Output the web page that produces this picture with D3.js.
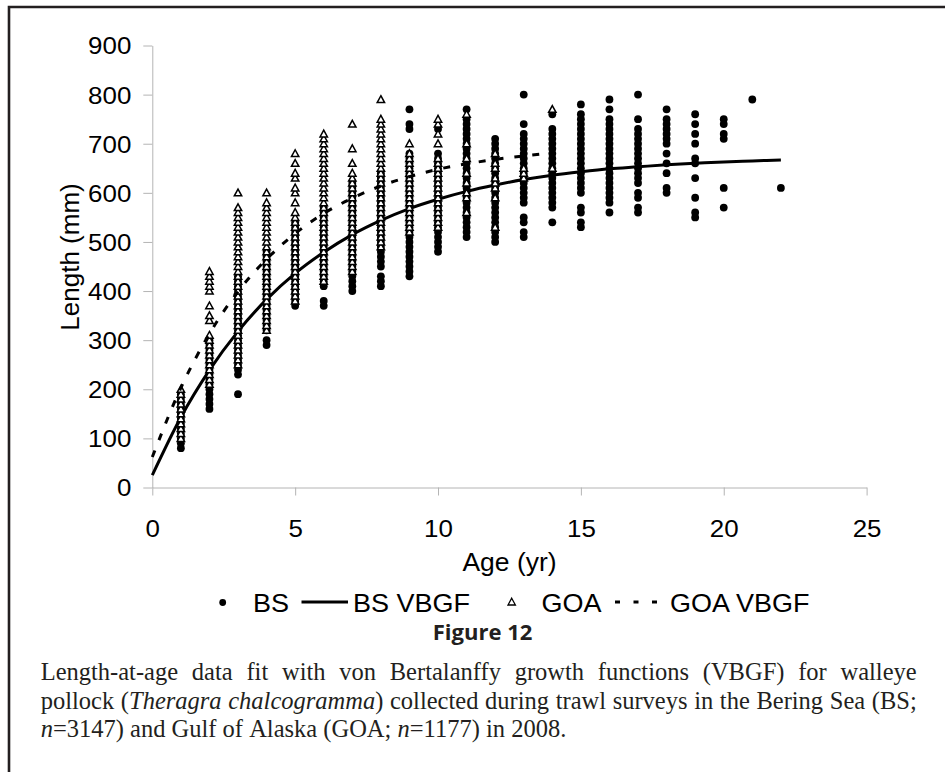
<!DOCTYPE html>
<html><head><meta charset="utf-8">
<script src="https://cdn.jsdelivr.net/npm/d3@7"></script>
<style>html,body{margin:0;padding:0;background:#fff;}svg{display:block;}</style>
</head><body><svg id="chart" width="945" height="772"></svg>
<script>
// ---------- data ----------
const xTicks = [0, 5, 10, 15, 20, 25];
const yTicks = [0, 100, 200, 300, 400, 500, 600, 700, 800, 900];

const bsAges = [1,2,3,4,5,6,7,8,9,10,11,12,13,14,15,16,17,18,19,20,21,22];
const bsLengths = [
  [80,90,100,110,120,130,140,150,160,170,180,190],
  [160,170,180,190,200,210,220,230,240,250,260,270,280,290,300],
  [190,230,240,250,260,270,280,290,300,310,320,330,340,350,360,370,380,390,400,410,420,430],
  [290,300,320,330,340,350,360,370,380,390,400,410,420,430,440,450,460,470,480],
  [370,380,390,400,410,420,430,440,450,460,470,480,490,500,510,520,530,540],
  [370,380,410,420,430,440,450,460,470,480,490,500,510,520,530,540,550,560,570],
  [400,410,420,430,440,450,460,470,480,490,500,510,520,530,540,550,560,570,580,590,600,610,620],
  [410,420,430,450,460,470,480,490,500,510,520,530,540,550,560,570,580,590,600,610,620,630,640],
  [430,440,450,460,470,480,490,500,510,520,530,540,550,560,570,580,590,600,610,620,630,640,650,660,670,680,730,740,770],
  [480,490,500,510,520,530,540,550,560,570,580,590,600,610,620,630,640,650,660,670,680,730],
  [510,520,530,540,550,560,570,580,590,600,610,620,630,640,650,660,670,680,690,700,710,720,730,740,750,770],
  [500,510,520,530,540,550,560,570,580,590,600,610,620,630,640,650,660,670,680,690,700,710],
  [510,520,540,550,580,590,600,610,620,630,640,650,660,670,680,690,700,710,720,740,800],
  [540,570,580,590,600,610,620,630,640,650,660,670,680,690,700,710,720,730,760],
  [530,540,560,570,600,610,620,630,640,650,660,670,680,690,700,710,720,730,740,750,760,780],
  [560,580,590,600,610,620,630,640,650,660,670,680,690,700,710,720,730,740,750,770,790],
  [560,570,590,600,620,630,640,650,660,670,680,690,700,710,720,730,750,800],
  [600,610,640,660,680,700,710,720,730,740,750,770],
  [550,560,590,630,660,670,700,720,740,760],
  [570,610,710,720,740,750],
  [790],
  [610]
];

const goaAges = [1,2,3,4,5,6,7,8,9,10,11,12,13,14];
const goaLengths = [
  [100,110,120,130,140,150,160,170,180,190,200],
  [210,220,230,240,250,260,270,280,290,300,310,340,350,370,400,410,420,430,440],
  [250,260,270,280,290,300,310,320,330,340,350,360,370,380,390,400,410,420,430,440,450,460,470,480,490,500,510,520,530,540,550,560,570,600],
  [320,330,340,350,360,370,380,390,400,410,420,430,440,450,460,470,480,490,500,510,520,530,540,550,560,570,580,600],
  [380,390,400,410,420,430,440,450,460,470,480,490,500,510,520,530,540,550,560,580,600,610,630,640,660,680],
  [420,430,440,450,460,470,480,490,500,510,520,530,540,550,560,570,580,590,600,610,620,630,640,650,660,670,680,690,700,710,720],
  [440,450,460,470,480,490,500,510,520,530,540,550,560,570,580,590,600,610,620,630,640,660,690,740],
  [490,500,510,520,530,540,550,560,570,580,590,600,610,620,630,640,650,660,670,680,690,700,710,720,730,740,750,790],
  [520,530,540,550,560,570,580,590,600,610,620,630,640,650,660,670,680,700],
  [530,540,550,560,570,580,590,600,610,620,630,640,650,660,670,700,720,740,750],
  [560,590,600,620,640,670,700,760],
  [530,590,610,620,630,650,660,680],
  [630,640,650],
  [650,770]
];

const bsFitAges = [0,1,2,3,4,5,6,7,8,9,10,11,12,13,14,15,16,17,18,19,20,21,22];
const bsFitLengths = [25,143,239,318,383,436,479,515,544,568,587,603,616,627,636,643,649,653,657,660,663,665,667];
const goaFitAges = [0,1,2,3,4,5,6,7,8,9,10,11,12,13,14];
const goaFitLengths = [62,203,313,399,465,517,558,589,614,633,648,659,668,675,681];

const legendLabels = ["BS", "BS VBGF", "GOA", "GOA VBGF"];
const xTitle = "Age (yr)";
const yTitle = "Length (mm)";
const figTitle = "Figure 12";
const captionLines = [
  "Length-at-age data fit with von Bertalanffy growth functions (VBGF) for walleye",
  "pollock (*Theragra* *chalcogramma*) collected during trawl surveys in the Bering Sea (BS;",
  "*n*=3147) and Gulf of Alaska (GOA; *n*=1177) in 2008."
];

// ---------- drawing ----------
const W = 945, H = 772;
const sans = "'Liberation Sans', Arial, sans-serif";
const serif = "'Liberation Serif', 'Times New Roman', serif";
const svg = d3.select("#chart");
svg.append("rect").attr("width", W).attr("height", H).attr("fill", "#fff");
svg.append("path").attr("d", "M945,7H9V772").attr("fill", "none")
  .attr("stroke", "#231f20").attr("stroke-width", 2.6);

const x = d3.scaleLinear().domain([0, 25]).range([152.3, 866.6]);
const y = d3.scaleLinear().domain([0, 900]).range([487.5, 45.5]);
const axisColor = "#b4b4b4";

const gx = svg.append("g").attr("transform", `translate(0,${y(0)})`)
  .call(d3.axisBottom(x).tickValues(xTicks).tickSize(8).tickSizeOuter(0).tickFormat(d3.format("d")));
gx.attr("font-family", sans).attr("font-size", 24);
gx.select(".domain").attr("stroke", axisColor);
gx.selectAll(".tick line").attr("stroke", axisColor);
gx.selectAll(".tick text").attr("fill", "#000").attr("y", 0).attr("dy", 0)
  .attr("transform", "translate(0,49.5) scale(1.08,1)");

const gy = svg.append("g").attr("transform", `translate(${x(0)},0)`)
  .call(d3.axisLeft(y).tickValues(yTicks).tickSize(9).tickSizeOuter(0));
gy.attr("font-family", sans).attr("font-size", 24);
gy.select(".domain").attr("stroke", axisColor);
gy.selectAll(".tick line").attr("stroke", axisColor);
gy.selectAll(".tick text").attr("fill", "#000").attr("x", 0).attr("dy", "0.35em")
  .attr("transform", "translate(-21,0) scale(1.08,1)");

svg.append("text").attr("transform", "translate(509.5,571) scale(1.06,1)")
  .attr("text-anchor", "middle").attr("font-family", sans).attr("font-size", 25).text(xTitle);
svg.append("text").attr("transform", "translate(79,257) rotate(-90)")
  .attr("text-anchor", "middle").attr("font-family", sans).attr("font-size", 26).text(yTitle);

// points
const bsPts = [];
bsAges.forEach((a, i) => bsLengths[i].forEach(l => bsPts.push([a, l])));
const goaPts = [];
goaAges.forEach((a, i) => goaLengths[i].forEach(l => goaPts.push([a, l])));

const triPath = "M0,-3.8L3.7,3L-3.7,3Z";
const line = d3.line().x(d => x(d[0])).y(d => y(d[1])).curve(d3.curveMonotoneX);

svg.append("g").selectAll("circle").data(bsPts).join("circle")
  .attr("cx", d => x(d[0])).attr("cy", d => y(d[1])).attr("r", 3.9).attr("fill", "#000");

svg.append("path").datum(bsFitAges.map((a, i) => [a, bsFitLengths[i]]))
  .attr("d", line).attr("fill", "none").attr("stroke", "#000").attr("stroke-width", 3);

svg.append("g").selectAll("path").data(goaPts).join("path")
  .attr("transform", d => `translate(${x(d[0])},${y(d[1])})`).attr("d", triPath)
  .attr("fill", "#fff").attr("stroke", "#000").attr("stroke-width", 1.5)
  .attr("stroke-linejoin", "miter");

svg.append("path").datum(goaFitAges.map((a, i) => [a, goaFitLengths[i]]))
  .attr("d", line).attr("fill", "none").attr("stroke", "#000").attr("stroke-width", 3)
  .attr("stroke-dasharray", "7,11");

// legend
const ly = 602;
const lg = svg.append("g").attr("font-family", sans).attr("font-size", 25);
lg.append("circle").attr("cx", 222.7).attr("cy", ly + 0.5).attr("r", 3.4).attr("fill", "#000");
lg.append("text").attr("transform", `translate(253,${ly + 9.5}) scale(1.08,1)`).text(legendLabels[0]);
lg.append("line").attr("x1", 301.5).attr("x2", 348).attr("y1", ly).attr("y2", ly)
  .attr("stroke", "#000").attr("stroke-width", 3);
lg.append("text").attr("transform", `translate(353,${ly + 9.5}) scale(1.08,1)`).text(legendLabels[1]);
lg.append("path").attr("transform", `translate(511.7,${ly})`).attr("d", triPath)
  .attr("fill", "#fff").attr("stroke", "#000").attr("stroke-width", 1.3);
lg.append("text").attr("transform", `translate(541.5,${ly + 9.5}) scale(1.08,1)`).text(legendLabels[2]);
lg.append("line").attr("x1", 615).attr("x2", 662).attr("y1", ly).attr("y2", ly)
  .attr("stroke", "#000").attr("stroke-width", 3).attr("stroke-dasharray", "5,13.5");
lg.append("text").attr("transform", `translate(670,${ly + 9.5}) scale(1.08,1)`).text(legendLabels[3]);

// figure title
svg.append("text").attr("transform", "translate(482.5,640) scale(1.05,1)")
  .attr("text-anchor", "middle").attr("font-family", "'Open Sans', sans-serif")
  .attr("font-weight", 700).attr("font-size", 21).attr("fill", "#231f20").text(figTitle);

// caption (justified)
const capLeft = 40.7, capRight = 916.7, capSize = 24.5;
const capBase = [680, 709, 737];
captionLines.forEach((ln, li) => {
  const words = ln.split(" ");
  const nodes = words.map(w => {
    const t = svg.append("text").attr("font-family", serif).attr("font-size", capSize)
      .attr("fill", "#231f20").attr("y", capBase[li]).attr("x", 0);
    w.split("*").forEach((seg, si) => {
      if (seg.length) t.append("tspan").attr("font-style", si % 2 ? "italic" : "normal").text(seg);
    });
    return t;
  });
  const widths = nodes.map(n => n.node().getComputedTextLength());
  const total = d3.sum(widths);
  const gap = li < captionLines.length - 1 ? (capRight - capLeft - total) / (words.length - 1) : capSize * 0.25;
  let cx = capLeft;
  nodes.forEach((n, i) => { n.attr("x", cx); cx += widths[i] + gap; });
});
</script></body></html>
